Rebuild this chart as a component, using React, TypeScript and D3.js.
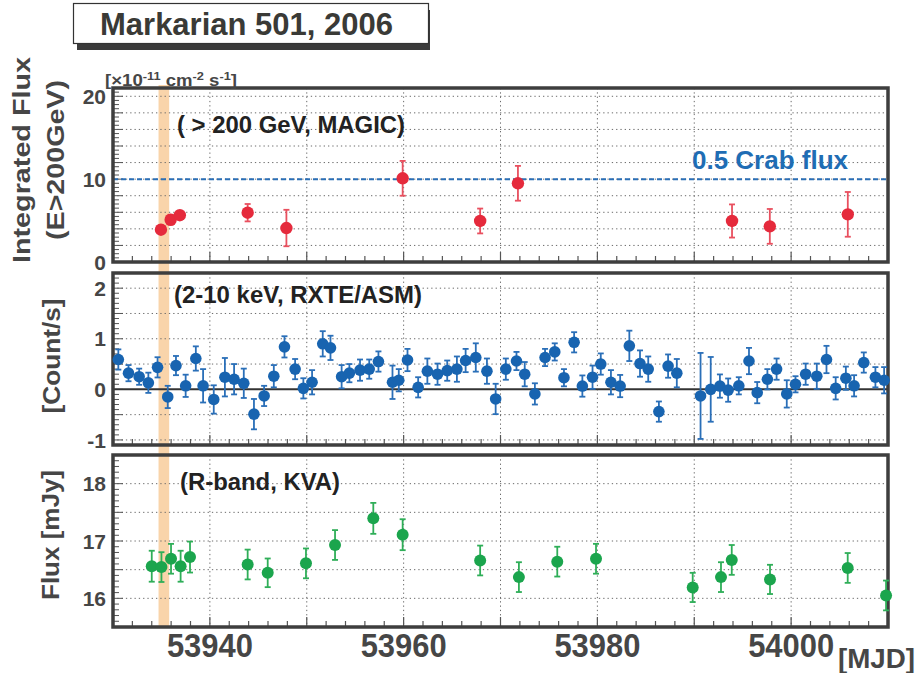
import { useRef, useEffect } from 'react';
import { select, scaleLinear, range } from 'd3';

// MAGIC, integrated flux above 200 GeV [1e-11 cm^-2 s^-1]
const magicMjd = [53934.95, 53935.95, 53936.9, 53943.9, 53947.9, 53959.9, 53967.9, 53971.8, 53993.9, 53997.8, 54005.85];
const magicFlux = [3.9, 5.1, 5.65, 5.95, 4.1, 10.1, 4.95, 9.5, 4.95, 4.3, 5.75];
const magicErr = [0.5, 0.6, 0.5, 1.05, 2.2, 2.1, 1.5, 2.1, 2.0, 2.1, 2.7];

// RXTE/ASM 2-10 keV count rate
const asmMjd = [
    53930.55, 53931.6, 53932.7, 53933.65, 53934.6, 53935.65, 53936.5, 53937.5, 53938.55, 53939.3,
    53940.4, 53941.55, 53942.5, 53943.5, 53944.55, 53945.6, 53946.6, 53947.7, 53948.8, 53949.65,
    53950.55, 53951.65, 53952.45, 53953.6, 53954.4, 53955.5, 53956.45, 53957.4, 53958.85, 53959.5,
    53960.4, 53961.5, 53962.45, 53963.5, 53964.5, 53965.5, 53966.4, 53967.45, 53968.6, 53969.5,
    53970.55, 53971.65, 53972.5, 53973.55, 53974.6, 53975.6, 53976.55, 53977.6, 53978.45, 53979.5,
    53980.35, 53981.4, 53982.35, 53983.3, 53984.4, 53985.25, 53986.35, 53987.3, 53988.2, 53990.65,
    53991.7, 53992.65, 53993.5, 53994.6, 53995.65, 53996.5, 53997.55, 53998.5, 53999.55, 54000.45,
    54001.5, 54002.65, 54003.65, 54004.6, 54005.65, 54006.5, 54007.5, 54008.7, 54009.6,
];
const asmRate = [
    0.59, 0.32, 0.25, 0.13, 0.435, -0.15, 0.47, 0.07, 0.61, 0.07,
    -0.2, 0.24, 0.2, 0.12, -0.49, -0.13, 0.26, 0.84, 0.4, 0.02,
    0.14, 0.9, 0.82, 0.25, 0.32, 0.38, 0.4, 0.55, 0.14, 0.18,
    0.58, 0.04, 0.36, 0.3, 0.37, 0.4, 0.57, 0.63, 0.36, -0.19,
    0.4, 0.56, 0.3, -0.09, 0.63, 0.74, 0.23, 0.93, 0.065, 0.24,
    0.5, 0.14, 0.065, 0.86, 0.51, 0.4, -0.44, 0.46, 0.32, -0.13,
    0.0, 0.065, -0.015, 0.07, 0.56, -0.065, 0.2, 0.4, -0.09, 0.1,
    0.3, 0.26, 0.59, 0.02, 0.22, 0.07, 0.53, 0.24, 0.18,
];
const asmErr = [
    0.2, 0.16, 0.16, 0.2, 0.2, 0.22, 0.19, 0.22, 0.24, 0.33,
    0.28, 0.38, 0.3, 0.29, 0.3, 0.2, 0.22, 0.21, 0.2, 0.2,
    0.24, 0.25, 0.24, 0.23, 0.18, 0.21, 0.19, 0.2, 0.33, 0.22,
    0.22, 0.2, 0.25, 0.21, 0.2, 0.25, 0.23, 0.28, 0.25, 0.3,
    0.21, 0.18, 0.24, 0.21, 0.17, 0.17, 0.17, 0.2, 0.21, 0.23,
    0.21, 0.24, 0.22, 0.3, 0.26, 0.25, 0.2, 0.23, 0.28, 0.85,
    0.64, 0.23, 0.23, 0.17, 0.26, 0.21, 0.2, 0.21, 0.27, 0.16,
    0.21, 0.25, 0.27, 0.22, 0.23, 0.21, 0.2, 0.2, 0.26,
];

// KVA R-band flux [mJy]
const kvaMjd = [
    53934.0, 53935.0, 53935.99, 53936.98, 53937.95, 53943.9, 53945.97, 53949.92, 53952.92, 53956.87,
    53959.9, 53967.9, 53971.9, 53975.86, 53979.86, 53989.84, 53992.76, 53993.87, 53997.82, 54005.84, 54009.8,
];
const kvaFlux = [
    16.56, 16.545, 16.69, 16.56, 16.72, 16.59, 16.445, 16.61, 16.93, 17.395,
    17.11, 16.66, 16.37, 16.64, 16.69, 16.19, 16.37, 16.67, 16.33, 16.53, 16.05,
];
const kvaErr = [
    0.27, 0.26, 0.26, 0.27, 0.27, 0.26, 0.25, 0.26, 0.26, 0.27,
    0.27, 0.26, 0.26, 0.26, 0.26, 0.255, 0.26, 0.26, 0.255, 0.26, 0.26,
];

const mjdDomain = [53930, 54010];
const mjdLabels = [53940, 53960, 53980, 54000];
const flareBand = [53934.7, 53935.8];
const crabHalf = 10;

function LightCurves() {
    const svgRef = useRef<SVGSVGElement | null>(null);
    const width = 919;
    const height = 673;
    const font = '"Liberation Sans", Arial, Helvetica, sans-serif';
    const axisGray = '#464646';

    useEffect(() => {
        const svg = select(svgRef.current);
        svg.selectAll('*').remove();

        const x = scaleLinear().domain(mjdDomain).range([113, 888]);

        const panels = [
            {
                top: 88, bottom: 262, domain: [0, 21], grid: range(2, 21, 2), labels: [0, 10, 20], minor: 0.5,
                mjd: magicMjd, val: magicFlux, err: magicErr, fill: '#e52a3c', errColor: '#e9505f', r: 6.2,
            },
            {
                top: 273, bottom: 445, domain: [-1.1, 2.3], grid: [-1, -0.5, 0.5, 1, 1.5, 2], labels: [-1, 0, 1, 2], minor: 0.1,
                mjd: asmMjd, val: asmRate, err: asmErr, fill: '#1864b0', errColor: '#2a6fb8', r: 5.8,
            },
            {
                top: 455, bottom: 627, domain: [15.5, 18.5], grid: [16, 16.5, 17, 17.5, 18], labels: [16, 17, 18], minor: 0.1,
                mjd: kvaMjd, val: kvaFlux, err: kvaErr, fill: '#1ba54d', errColor: '#2fae58', r: 6,
            },
        ];

        // Flare band across all panels
        svg.append('rect')
            .attr('x', x(flareBand[0]))
            .attr('y', 85)
            .attr('width', x(flareBand[1]) - x(flareBand[0]))
            .attr('height', 542)
            .attr('fill', '#f9d4aa');

        panels.forEach((p, pi) => {
            const y = scaleLinear().domain(p.domain).range([p.bottom, p.top]);
            const g = svg.append('g');

            // Grid
            g.selectAll('line.hgrid')
                .data(p.grid)
                .join('line')
                .attr('x1', 113).attr('x2', 888)
                .attr('y1', (d) => y(d)).attr('y2', (d) => y(d))
                .attr('stroke', '#6a6a6a')
                .attr('stroke-width', 1)
                .attr('stroke-dasharray', '1.3 3');
            g.selectAll('line.vgrid')
                .data(range(53940, 54001, 10))
                .join('line')
                .attr('x1', (d) => x(d)).attr('x2', (d) => x(d))
                .attr('y1', p.top).attr('y2', p.bottom)
                .attr('stroke', '#6a6a6a')
                .attr('stroke-width', 1)
                .attr('stroke-dasharray', '1.3 3');

            // Left ticks
            const n = Math.round((p.domain[1] - p.domain[0]) / p.minor);
            const minorVals = range(0, n + 1).map((i) => Math.round((p.domain[0] + i * p.minor) * 1000) / 1000);
            g.append('g')
                .selectAll('line')
                .data(minorVals)
                .join('line')
                .attr('x1', 113)
                .attr('x2', (d) => (p.grid.includes(d) || p.labels.includes(d) ? 123 : 119))
                .attr('y1', (d) => y(d)).attr('y2', (d) => y(d))
                .attr('stroke', '#555')
                .attr('stroke-width', 1);

            // Bottom ticks
            g.append('g')
                .selectAll('line')
                .data(range(53932, 54010, 2))
                .join('line')
                .attr('x1', (d) => x(d)).attr('x2', (d) => x(d))
                .attr('y1', p.bottom)
                .attr('y2', (d) => p.bottom - (d % 10 === 0 ? 10 : 6))
                .attr('stroke', '#555')
                .attr('stroke-width', 1.2);

            if (pi === 0) {
                g.append('line')
                    .attr('x1', 113).attr('x2', 888)
                    .attr('y1', y(crabHalf)).attr('y2', y(crabHalf))
                    .attr('stroke', '#2b6fb6')
                    .attr('stroke-width', 2)
                    .attr('stroke-dasharray', '5 3');
            }
            if (pi === 1) {
                g.append('line')
                    .attr('x1', 113).attr('x2', 888)
                    .attr('y1', y(0)).attr('y2', y(0))
                    .attr('stroke', '#333')
                    .attr('stroke-width', 2);
            }

            // Frame
            g.append('rect')
                .attr('x', 113).attr('y', p.top)
                .attr('width', 775).attr('height', p.bottom - p.top)
                .attr('fill', 'none')
                .attr('stroke', '#3e3e3e')
                .attr('stroke-width', 3.5);

            // Y tick labels
            g.selectAll('text.ylab')
                .data(p.labels)
                .join('text')
                .attr('x', 106)
                .attr('y', (d) => y(d))
                .attr('dy', '0.36em')
                .attr('text-anchor', 'end')
                .attr('font-family', font)
                .attr('font-weight', 'bold')
                .attr('font-size', 21)
                .attr('fill', axisGray)
                .text((d) => `${d}`);

            // Error bars and points
            const idx = p.mjd.map((_, i) => i);
            const eg = g.append('g').attr('stroke', p.errColor).attr('stroke-width', 1.8);
            eg.selectAll('line.bar')
                .data(idx)
                .join('line')
                .attr('x1', (i) => x(p.mjd[i])).attr('x2', (i) => x(p.mjd[i]))
                .attr('y1', (i) => y(p.val[i] - p.err[i]))
                .attr('y2', (i) => y(p.val[i] + p.err[i]));
            [-1, 1].forEach((s) => {
                eg.append('g')
                    .selectAll('line')
                    .data(idx)
                    .join('line')
                    .attr('x1', (i) => x(p.mjd[i]) - 3).attr('x2', (i) => x(p.mjd[i]) + 3)
                    .attr('y1', (i) => y(p.val[i] + s * p.err[i]))
                    .attr('y2', (i) => y(p.val[i] + s * p.err[i]));
            });
            g.append('g')
                .selectAll('circle')
                .data(idx)
                .join('circle')
                .attr('cx', (i) => x(p.mjd[i]))
                .attr('cy', (i) => y(p.val[i]))
                .attr('r', p.r)
                .attr('fill', p.fill);
        });

        // X tick labels
        svg.append('g')
            .selectAll('text')
            .data(mjdLabels)
            .join('text')
            .attr('x', (d) => x(d))
            .attr('y', 657)
            .attr('text-anchor', 'middle')
            .attr('font-family', font)
            .attr('font-weight', 'bold')
            .attr('font-size', 34)
            .attr('textLength', 86)
            .attr('lengthAdjust', 'spacingAndGlyphs')
            .attr('fill', axisGray)
            .text((d) => `${d}`);

        const addText = (tx: number, ty: number, str: string, size: number, color: string, anchor = 'start', rot = 0, len = 0) => {
            const t = svg.append('text')
                .attr('transform', `translate(${tx},${ty}) rotate(${rot})`)
                .attr('text-anchor', anchor)
                .attr('font-family', font)
                .attr('font-weight', 'bold')
                .attr('font-size', size)
                .attr('fill', color)
                .text(str);
            if (len) t.attr('textLength', len).attr('lengthAdjust', 'spacingAndGlyphs');
            return t;
        };

        addText(838, 668, '[MJD]', 28, axisGray, 'start', 0, 77);

        // Axis titles (stretched along the text direction like the original)
        addText(30, 160, 'Integrated Flux', 24, axisGray, 'middle', -90, 206);
        addText(64, 160, '(E>200GeV)', 23, axisGray, 'middle', -90, 160);
        addText(60, 356, '[Count/s]', 24, axisGray, 'middle', -90, 115);
        addText(59, 535, 'Flux [mJy]', 24, axisGray, 'middle', -90, 130);

        // Panel annotations
        addText(177, 133, '( > 200 GeV, MAGIC)', 23.5, '#222', 'start', 0, 228);
        addText(692, 169, '0.5 Crab flux', 25.5, '#1f6db4', 'start', 0, 156);
        addText(174, 303, '(2-10 keV, RXTE/ASM)', 23.5, '#222', 'start', 0, 248);
        addText(180, 490, '(R-band, KVA)', 23.5, '#222', 'start', 0, 160);

        // Unit label
        const unit = svg.append('text')
            .attr('x', 105).attr('y', 86)
            .attr('font-family', font)
            .attr('font-weight', 'bold')
            .attr('font-size', 16)
            .attr('textLength', 132)
            .attr('lengthAdjust', 'spacingAndGlyphs')
            .attr('fill', axisGray);
        unit.append('tspan').text('[\u00d710');
        unit.append('tspan').attr('dy', -6).attr('font-size', 11).text('-11');
        unit.append('tspan').attr('dy', 6).text(' cm');
        unit.append('tspan').attr('dy', -6).attr('font-size', 11).text('-2');
        unit.append('tspan').attr('dy', 6).text(' s');
        unit.append('tspan').attr('dy', -6).attr('font-size', 11).text('-1');
        unit.append('tspan').attr('dy', 6).text(']');

        // Title box with shadow
        svg.append('rect')
            .attr('x', 77).attr('y', 10).attr('width', 353).attr('height', 40)
            .attr('fill', '#3a3a3a');
        svg.append('rect')
            .attr('x', 73.5).attr('y', 3.5).attr('width', 355).attr('height', 40)
            .attr('fill', 'white')
            .attr('stroke', '#333')
            .attr('stroke-width', 1.2);
        addText(246.5, 35, 'Markarian 501, 2006', 31, '#3a3a36', 'middle', 0, 293);
    }, []);

    return (
        <div style={{ position: 'absolute', left: 0, top: 0 }}>
            <svg ref={svgRef} width={width} height={height} viewBox={`0 0 ${width} ${height}`}></svg>
        </div>
    );
}

export default function App() {
    return <LightCurves />;
}
